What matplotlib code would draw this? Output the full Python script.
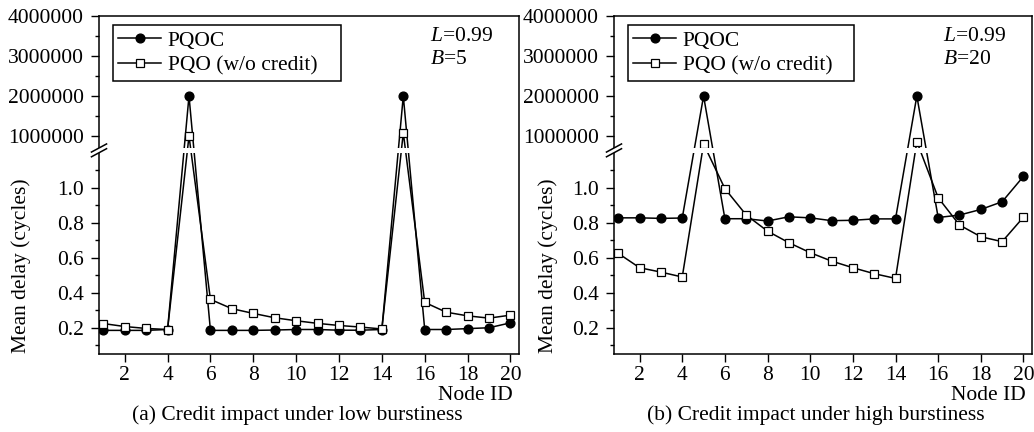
import numpy as np
import matplotlib
matplotlib.use('Agg')
import matplotlib.pyplot as plt
from matplotlib.lines import Line2D
from matplotlib.patches import Rectangle

plt.rcParams['font.family'] = ['Liberation Serif', 'DejaVu Serif']
plt.rcParams['font.size'] = 15.5
plt.rcParams['mathtext.fontset'] = 'custom'
plt.rcParams['mathtext.rm'] = 'Liberation Serif'
plt.rcParams['mathtext.it'] = 'Liberation Serif:italic'

# data
nodes = np.arange(1, 21)

pqoc_low = [0.185, 0.185, 0.185, 0.19, 2.0e6, 0.185, 0.185, 0.185, 0.187, 0.19,
            0.19, 0.186, 0.186, 0.19, 2.0e6, 0.19, 0.19, 0.195, 0.20, 0.228]
pqo_low = [0.224, 0.207, 0.196, 0.19, 1.0e6, 0.362, 0.309, 0.282, 0.257, 0.24,
           0.225, 0.213, 0.204, 0.193, 1.08e6, 0.345, 0.289, 0.268, 0.255, 0.272]

pqoc_high = [0.828, 0.828, 0.825, 0.827, 2.0e6, 0.823, 0.823, 0.81, 0.834, 0.828,
             0.812, 0.814, 0.822, 0.822, 2.0e6, 0.83, 0.844, 0.876, 0.92, 1.065]
pqo_high = [0.625, 0.543, 0.518, 0.49, 0.8e6, 0.995, 0.844, 0.752, 0.686, 0.629,
            0.581, 0.543, 0.509, 0.482, 0.86e6, 0.943, 0.787, 0.72, 0.692, 0.832]

panels = [
    (pqoc_low, pqo_low, '5', '(a) Credit impact under low burstiness'),
    (pqoc_high, pqo_high, '20', '(b) Credit impact under high burstiness'),
]

yticks = [0.2, 0.4, 0.6, 0.8, 1.0, 1e6, 2e6, 3e6, 4e6]
yticklabels = ['0.2', '0.4', '0.6', '0.8', '1.0', '1000000', '2000000', '3000000', '4000000']
yminor = [0.1, 0.3, 0.5, 0.7, 0.9, 1.1, 1.5e6, 2.5e6, 3.5e6]
xticks = list(range(2, 21, 2))

# broken y axis as a piecewise linear scale
Y0, LO_TOP, HI_BOT = 0.05, 1.2, 0.7e6
K_LO, K_HI, T_1M = 175.0, 40e-6, 218.0
T_LO = (LO_TOP - Y0) * K_LO
T_HI = T_1M + (HI_BOT - 1e6) * K_HI


def fwd(y):
    y = np.asarray(y, float)
    lo = (y - Y0) * K_LO
    hi = T_1M + (y - 1e6) * K_HI
    mid = T_LO + (y - LO_TOP) * (T_HI - T_LO) / (HI_BOT - LO_TOP)
    return np.where(y <= LO_TOP, lo, np.where(y >= HI_BOT, hi, mid))


def inv(t):
    t = np.asarray(t, float)
    lo = t / K_LO + Y0
    hi = (t - T_1M) / K_HI + 1e6
    mid = LO_TOP + (t - T_LO) * (HI_BOT - LO_TOP) / (T_HI - T_LO)
    return np.where(t <= T_LO, lo, np.where(t >= T_HI, hi, mid))


fig = plt.figure(figsize=(10.34, 4.32), dpi=100)
ax_pos = [[99 / 1034, 78 / 432, 420 / 1034, 338 / 432],
          [614 / 1034, 78 / 432, 418 / 1034, 338 / 432]]
cap_x = [297 / 1034, 816 / 1034]
ylab_x = [-0.186, -0.158]

for i, (pqoc, pqo, b, caption) in enumerate(panels):
    ax = fig.add_axes(ax_pos[i])
    ax.set_yscale('function', functions=(fwd, inv))
    ax.plot(nodes, pqoc, '-o', color='black', mfc='black', ms=6.3, lw=1.1, label='PQOC')
    ax.plot(nodes, pqo, '-s', color='black', mfc='white', ms=5.8, mew=0.9, lw=1.1,
            label='PQO (w/o credit)')
    ax.set_xlim(0.8, 20.4)
    ax.set_ylim(0.05, 4e6)
    ax.set_xticks(xticks)
    ax.set_yticks(yticks)
    ax.set_yticklabels(yticklabels)
    ax.set_yticks(yminor, minor=True)
    ax.tick_params(axis='both', which='major', direction='out', length=6, width=1, pad=3)
    ax.tick_params(axis='y', which='major', pad=5)
    ax.tick_params(axis='y', which='minor', direction='out', length=3, width=1)
    for s in ax.spines.values():
        s.set_linewidth(1.1)

    # break band and marks
    top = fwd(4e6)
    f_lo = float(fwd(LO_TOP) / top)
    f_hi = float(fwd(HI_BOT) / top)
    ax.add_patch(Rectangle((-0.01, f_lo), 1.007, f_hi - f_lo, transform=ax.transAxes,
                           facecolor='white', edgecolor='none', zorder=3, clip_on=False))
    for f in (f_lo, f_hi):
        ax.add_line(Line2D([-0.018, 0.018], [f - 0.012, f + 0.012], transform=ax.transAxes,
                           color='black', lw=1.1, zorder=4, clip_on=False))

    leg = ax.legend(loc='upper left', bbox_to_anchor=(0.033, 0.812, 0.542, 0.161),
                    mode='expand', borderaxespad=0,
                    fancybox=False, edgecolor='black', framealpha=1, handlelength=2.0,
                    handletextpad=0.3, labelspacing=0.22, borderpad=0.25)
    leg.get_frame().set_linewidth(1.1)

    ax.text(0.787, 0.968, '$L$=0.99\n$B$=' + b, transform=ax.transAxes,
            ha='left', va='top', linespacing=1.3)
    ax.text(0.985, -0.122, 'Node ID', transform=ax.transAxes, ha='right', va='center')
    ax.text(ylab_x[i], 0.26, 'Mean delay (cycles)', transform=ax.transAxes,
            rotation=90, ha='center', va='center')
    fig.text(cap_x[i], 0.038, caption, ha='center', va='center')

fig.savefig('out.png', dpi=100)
